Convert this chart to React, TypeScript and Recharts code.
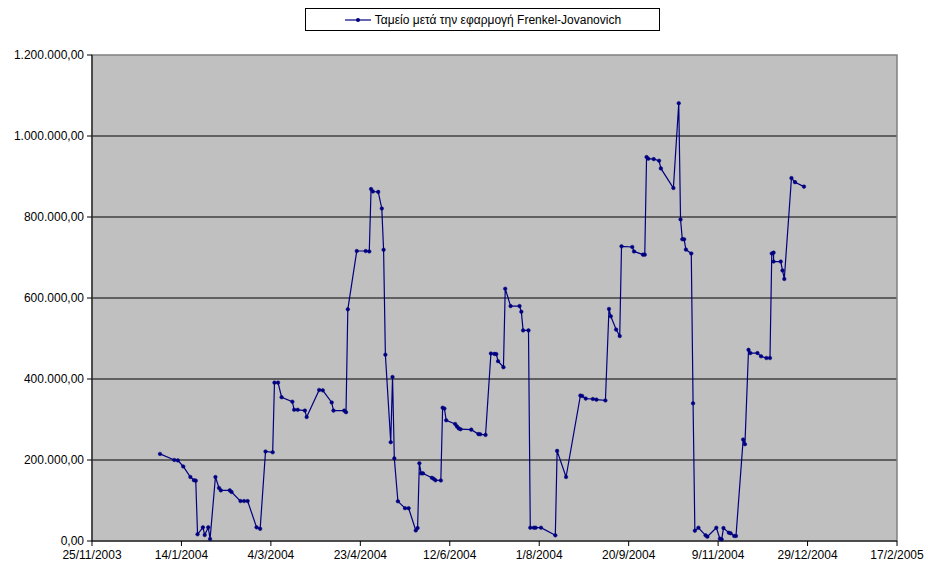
import { LineChart, Line, XAxis, YAxis, CartesianGrid, Legend, ReferenceArea } from 'recharts';

const FONT = '"Liberation Sans", Arial, sans-serif';
const NAVY = '#000080';

const seriesName = 'Ταμείο μετά την εφαρμογή Frenkel-Jovanovich';

// trading dates (yyyy-mm-dd)
const dates = [
  '2004-01-02', '2004-01-10', '2004-01-12', '2004-01-15', '2004-01-19', '2004-01-21', '2004-01-22', '2004-01-23',
  '2004-01-26', '2004-01-27', '2004-01-29', '2004-01-30', '2004-02-02', '2004-02-04', '2004-02-05', '2004-02-10',
  '2004-02-11', '2004-02-16', '2004-02-18', '2004-02-20', '2004-02-25', '2004-02-27', '2004-03-01', '2004-03-05',
  '2004-03-06', '2004-03-08', '2004-03-10', '2004-03-16', '2004-03-17', '2004-03-19', '2004-03-23', '2004-03-24',
  '2004-03-31', '2004-04-02', '2004-04-07', '2004-04-08', '2004-04-14', '2004-04-15', '2004-04-16', '2004-04-21',
  '2004-04-26', '2004-04-28', '2004-04-29', '2004-04-30', '2004-05-03', '2004-05-05', '2004-05-06', '2004-05-07',
  '2004-05-10', '2004-05-11', '2004-05-12', '2004-05-14', '2004-05-18', '2004-05-20', '2004-05-24', '2004-05-25',
  '2004-05-26', '2004-05-27', '2004-05-28', '2004-06-02', '2004-06-03', '2004-06-04', '2004-06-07', '2004-06-08',
  '2004-06-09', '2004-06-10', '2004-06-15', '2004-06-16', '2004-06-17', '2004-06-18', '2004-06-24', '2004-06-28',
  '2004-06-29', '2004-07-02', '2004-07-05', '2004-07-07', '2004-07-08', '2004-07-09', '2004-07-12', '2004-07-13',
  '2004-07-16', '2004-07-21', '2004-07-22', '2004-07-23', '2004-07-26', '2004-07-27', '2004-07-29', '2004-07-30',
  '2004-08-02', '2004-08-10', '2004-08-11', '2004-08-16', '2004-08-24', '2004-08-25', '2004-08-27', '2004-08-31',
  '2004-09-02', '2004-09-07', '2004-09-09', '2004-09-10', '2004-09-13', '2004-09-15', '2004-09-16', '2004-09-22',
  '2004-09-23', '2004-09-28', '2004-09-29', '2004-09-30', '2004-10-01', '2004-10-04', '2004-10-07', '2004-10-08',
  '2004-10-15', '2004-10-18', '2004-10-19', '2004-10-20', '2004-10-21', '2004-10-22', '2004-10-25', '2004-10-26',
  '2004-10-27', '2004-10-29', '2004-11-02', '2004-11-03', '2004-11-08', '2004-11-10', '2004-11-11', '2004-11-12',
  '2004-11-15', '2004-11-16', '2004-11-18', '2004-11-19', '2004-11-23', '2004-11-24', '2004-11-26', '2004-11-27',
  '2004-12-01', '2004-12-03', '2004-12-06', '2004-12-08', '2004-12-09', '2004-12-10', '2004-12-10', '2004-12-14',
  '2004-12-15', '2004-12-16', '2004-12-20', '2004-12-22', '2004-12-27',
];

// cash balance after applying the Frenkel-Jovanovich rule
const balance = [
  215000, 200000, 199000, 184000, 158000, 150000, 149000, 16500,
  33700, 14800, 33700, 5000, 158000, 131000, 125000, 125000,
  121000, 98600, 98600, 98600, 33700, 30000, 221000, 219000,
  391000, 391000, 355000, 344000, 324000, 324000, 322000, 306000,
  373000, 372000, 342000, 322000, 322000, 318000, 572000, 716000,
  716000, 715000, 869000, 863000, 862000, 821000, 719000, 460000,
  244000, 405000, 204000, 98000, 81000, 81000, 26000, 32000,
  192000, 167000, 167000, 156000, 153500, 150000, 149500, 329000,
  327000, 298000, 289000, 283000, 278000, 276000, 275000, 264000,
  263500, 262000, 463000, 462000, 461500, 444000, 429000, 623000,
  580000, 580000, 566000, 520000, 520000, 32800, 32800, 32800,
  32800, 14000, 222500, 158000, 359000, 358000, 351600, 350600,
  349000, 347000, 573000, 555000, 522000, 506000, 727600, 726000,
  715000, 707000, 707000, 948000, 944000, 943000, 939000, 920000,
  871500, 1081000, 794000, 745000, 745000, 719500, 710000, 340000,
  25400, 32800, 14000, 10600, 32800, 5700, 4000, 32000,
  20500, 19000, 12300, 12300, 250500, 239000, 472000, 464000,
  464000, 456000, 451700, 451700, 710000, 712000, 690000, 690000,
  668000, 647000, 896000, 886000, 875000,
];

const xTickDates = [
  '2003-11-25', '2004-01-14', '2004-03-04', '2004-04-23', '2004-06-12',
  '2004-08-01', '2004-09-20', '2004-11-09', '2004-12-29', '2005-02-17',
];
const yTicks = [0, 200000, 400000, 600000, 800000, 1000000, 1200000];

const toTime = (s: string) => {
  const [y, m, d] = s.split('-').map(Number);
  return Date.UTC(y, m - 1, d);
};

const data = dates.map((d, i) => ({ t: toTime(d), value: balance[i] }));
const xTicks = xTickDates.map(toTime);
const xMin = xTicks[0];
const xMax = xTicks[xTicks.length - 1];

const fmtDate = (t: number) => {
  const d = new Date(t);
  return `${d.getUTCDate()}/${d.getUTCMonth() + 1}/${d.getUTCFullYear()}`;
};

// 1200000 -> "1.200.000,00"
const fmtMoney = (v: number) => {
  const s = String(Math.round(v)).replace(/\B(?=(\d{3})+(?!\d))/g, '.');
  return `${s},00`;
};

const LegendBox = () => (
  <div
    style={{
      boxSizing: 'border-box',
      width: 355,
      height: 23,
      border: '1px solid #000',
      background: '#fff',
      display: 'flex',
      alignItems: 'center',
      justifyContent: 'center',
      fontFamily: FONT,
      fontSize: 12,
      color: '#000',
    }}
  >
    <svg width={28} height={10} style={{ marginRight: 3 }}>
      <line x1={1} y1={5} x2={27} y2={5} stroke={NAVY} strokeWidth={1.2} />
      <circle cx={14} cy={5} r={2} fill={NAVY} />
    </svg>
    <span>{seriesName}</span>
  </div>
);

export default function App() {
  return (
    <div style={{ position: 'absolute', left: 0, top: 0, width: 928, height: 567, background: '#fff' }}>
      {/* the legend box adds its own height to the top offset, so the top margin is reduced by it */}
      <LineChart width={928} height={567} data={data} margin={{ top: 32, right: 31, bottom: 0, left: 0 }}>
        <CartesianGrid
          fill="#c0c0c0"
          stroke="#000"
          vertical={false}
          horizontalValues={[200000, 400000, 600000, 800000, 1000000]}
        />
        <ReferenceArea
          x1={xMin}
          x2={xMax}
          y1={0}
          y2={1200000}
          fill="none"
          stroke="#808080"
          strokeWidth={1.5}
          ifOverflow="visible"
        />
        <XAxis
          dataKey="t"
          type="number"
          domain={[xMin, xMax]}
          ticks={xTicks}
          interval={0}
          tickFormatter={fmtDate}
          height={26}
          stroke="#000"
          tickSize={5}
          tickMargin={4}
          tick={{ fill: '#000', fontSize: 12, fontFamily: FONT }}
          allowDataOverflow
        />
        <YAxis
          type="number"
          domain={[0, 1200000]}
          ticks={yTicks}
          interval={0}
          tickFormatter={fmtMoney}
          width={92}
          stroke="#000"
          tickSize={5}
          tickMargin={3}
          tick={{ fill: '#000', fontSize: 12, fontFamily: FONT }}
        />
        <Legend
          layout="vertical"
          align="center"
          verticalAlign="top"
          wrapperStyle={{ top: 8, left: 305, width: 355 }}
          content={() => <LegendBox />}
        />
        <Line
          type="linear"
          dataKey="value"
          name={seriesName}
          stroke={NAVY}
          strokeWidth={1.2}
          dot={{ r: 1.8, fill: NAVY, stroke: NAVY, strokeWidth: 0.5 }}
          activeDot={false}
          isAnimationActive={false}
        />
      </LineChart>
    </div>
  );
}
